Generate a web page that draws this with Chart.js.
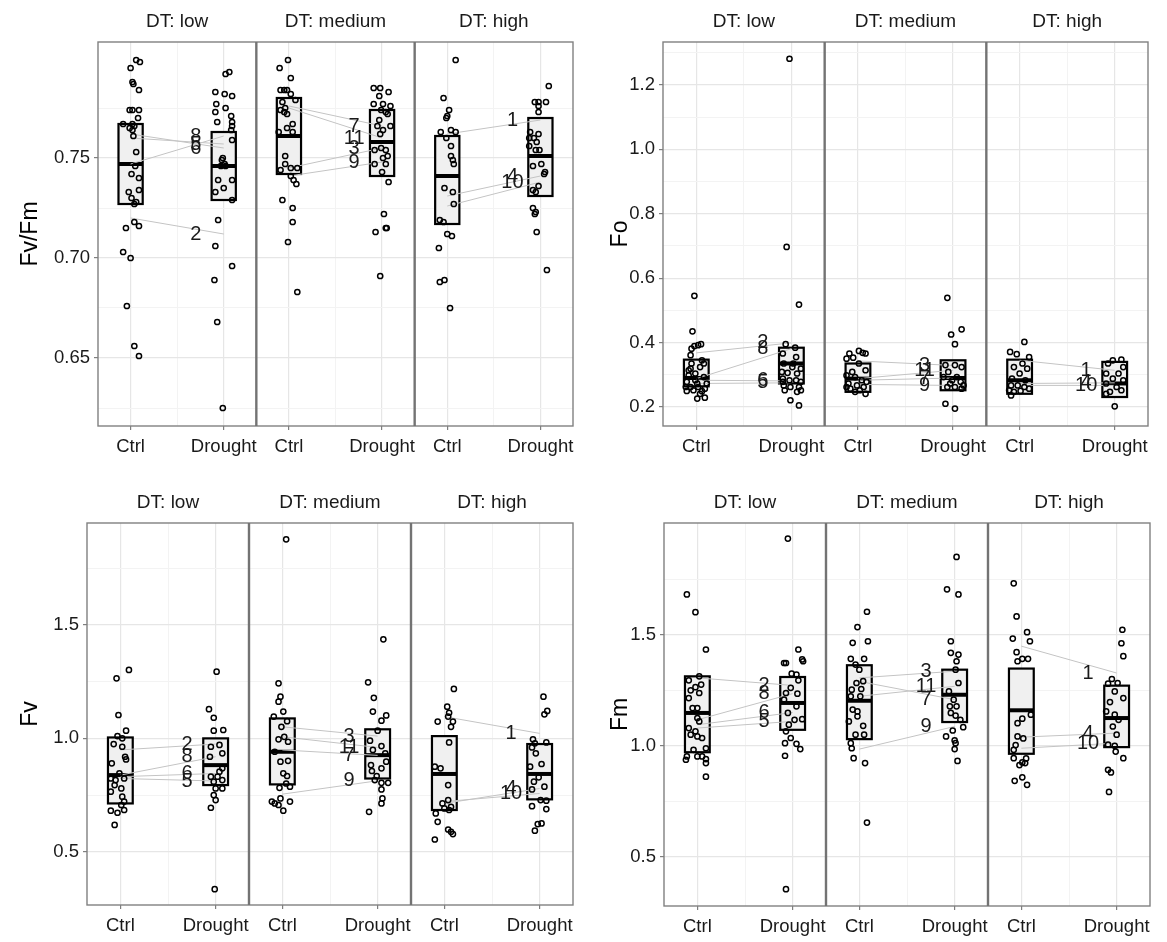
<!DOCTYPE html>
<html>
<head>
<meta charset="utf-8">
<script src="https://cdn.jsdelivr.net/npm/chart.js@4.4.1/dist/chart.umd.min.js"></script>
<style>
  body { margin: 0; background: #fff; width: 1167px; height: 942px; position: relative; overflow: hidden; }
  canvas { position: absolute; }
</style>
</head>
<body>
<canvas id="cFvFm"></canvas>
<canvas id="cFo"></canvas>
<canvas id="cFv"></canvas>
<canvas id="cFm"></canvas>
<script>
// facets and groups
const facets = ['DT: low', 'DT: medium', 'DT: high'];
const groups = ['Ctrl', 'Drought'];

// ---- Fv/Fm : points as [jitter, value] ----
const fvfmLowCtrl = [[0.06,0.799],[0.10,0.798],[0,0.795],[0.02,0.788],[0.03,0.787],[0.09,0.784],[-0.01,0.774],[0.02,0.774],[0.09,0.774],[0.08,0.770],[-0.08,0.767],[0.02,0.767],[0.04,0.766],[-0.01,0.765],[0.02,0.764],[0.03,0.761],[0.06,0.753],[0.05,0.746],[0.01,0.742],[0.09,0.740],[0.09,0.734],[-0.02,0.733],[0.01,0.730],[0.06,0.728],[0.04,0.727],[0.04,0.718],[-0.05,0.715],[0.09,0.716],[-0.08,0.703],[0,0.700],[-0.04,0.676],[0.04,0.656],[0.09,0.651]];
const fvfmLowDrought = [[0.02,0.792],[0.06,0.793],[-0.09,0.783],[0.01,0.782],[0.09,0.781],[-0.08,0.777],[0.02,0.775],[-0.09,0.773],[0.08,0.771],[0.09,0.768],[-0.07,0.768],[0.09,0.766],[0.08,0.764],[0.09,0.759],[-0.01,0.750],[-0.02,0.749],[0.01,0.747],[-0.03,0.746],[0.02,0.746],[-0.06,0.739],[0.09,0.739],[0,0.735],[-0.09,0.733],[0.09,0.729],[-0.06,0.719],[-0.09,0.706],[0.09,0.696],[-0.10,0.689],[-0.07,0.668],[-0.01,0.625]];
const fvfmMedCtrl = [[-0.01,0.799],[-0.10,0.795],[0.02,0.790],[-0.09,0.784],[-0.05,0.784],[-0.02,0.784],[0.02,0.782],[0.07,0.779],[-0.07,0.778],[-0.04,0.775],[-0.09,0.774],[-0.05,0.773],[-0.02,0.772],[0.04,0.767],[-0.02,0.765],[-0.11,0.763],[0.04,0.763],[-0.04,0.751],[-0.04,0.747],[0.02,0.745],[0.09,0.745],[-0.09,0.744],[0.02,0.741],[0.05,0.739],[0.08,0.737],[-0.07,0.729],[0.04,0.725],[0.04,0.718],[-0.01,0.708],[0.09,0.683]];
const fvfmMedDrought = [[-0.09,0.785],[-0.02,0.785],[0.07,0.783],[-0.03,0.781],[-0.09,0.777],[0.01,0.777],[0.09,0.776],[-0.01,0.774],[0.04,0.773],[0.06,0.772],[-0.03,0.769],[0.09,0.766],[-0.05,0.766],[0.01,0.764],[-0.02,0.762],[-0.01,0.755],[0.04,0.754],[-0.08,0.754],[0.06,0.751],[0.01,0.750],[-0.08,0.747],[0.04,0.747],[0,0.743],[0.07,0.738],[0.02,0.722],[-0.07,0.713],[0.04,0.715],[0.05,0.715],[-0.02,0.691]];
const fvfmHighCtrl = [[0.09,0.799],[-0.04,0.780],[0.02,0.774],[0,0.771],[-0.01,0.770],[-0.07,0.763],[0.04,0.764],[0.09,0.763],[-0.01,0.760],[0.04,0.756],[0.04,0.751],[0.06,0.749],[0.07,0.747],[-0.03,0.735],[0.06,0.733],[0.07,0.727],[-0.08,0.719],[-0.04,0.718],[0,0.712],[0.05,0.711],[-0.09,0.705],[-0.08,0.688],[-0.03,0.689],[0.03,0.675]];
const fvfmHighDrought = [[0.09,0.786],[-0.06,0.778],[-0.02,0.778],[0.06,0.778],[-0.02,0.776],[-0.02,0.773],[-0.11,0.763],[-0.02,0.762],[-0.12,0.760],[-0.07,0.760],[-0.04,0.758],[-0.12,0.756],[-0.05,0.754],[-0.01,0.754],[-0.08,0.746],[0.01,0.747],[0.05,0.743],[0.04,0.742],[-0.02,0.736],[-0.08,0.734],[-0.05,0.733],[-0.08,0.725],[-0.05,0.723],[-0.06,0.722],[-0.04,0.713],[0.07,0.694]];
// boxes [q1, median, q3] : low Ctrl, low Drought, medium Ctrl, ...
const fvfmBoxes = [[0.727,0.747,0.767],[0.729,0.746,0.763],[0.742,0.761,0.780],[0.741,0.758,0.774],[0.717,0.741,0.761],[0.731,0.751,0.770]];
// paired plants [facet, label, Ctrl value, Drought value]
const fvfmPairs = [[0,'5',0.760,0.757],[0,'6',0.762,0.755],[0,'8',0.747,0.761],[0,'2',0.720,0.712],[1,'7',0.776,0.766],[1,'11',0.775,0.760],[1,'3',0.745,0.755],[1,'9',0.741,0.748],[2,'1',0.762,0.769],[2,'4',0.731,0.741],[2,'10',0.726,0.738]];
const fvfmTicks = [0.65, 0.70, 0.75];
const fvfmMinor = [0.625, 0.675, 0.725, 0.775];

// ---- Fo ----
const foLowCtrl = [[-0.02,0.545],[-0.04,0.435],[-0.05,0.381],[-0.02,0.389],[0.05,0.395],[0.02,0.392],[-0.06,0.361],[0.08,0.335],[0.04,0.324],[-0.08,0.314],[-0.01,0.304],[0.08,0.293],[-0.10,0.278],[0.01,0.273],[-0.06,0.262],[0.02,0.262],[0.09,0.257],[-0.10,0.250],[-0.03,0.252],[0.06,0.249],[0.01,0.226],[0.09,0.229],[-0.05,0.335],[-0.08,0.298],[0.11,0.273],[-0.01,0.283],[0.04,0.241],[-0.11,0.262],[0.06,0.345],[-0.06,0.319]];
const foLowDrought = [[-0.02,1.281],[-0.05,0.697],[0.08,0.518],[-0.06,0.395],[0.04,0.384],[-0.09,0.366],[0.05,0.355],[-0.08,0.335],[0.01,0.324],[0.10,0.319],[-0.10,0.309],[-0.04,0.306],[0.06,0.304],[-0.09,0.288],[-0.02,0.283],[0.05,0.283],[0.10,0.278],[-0.08,0.267],[-0.01,0.262],[0.08,0.262],[0.10,0.252],[-0.07,0.252],[-0.01,0.221],[0.08,0.205],[-0.09,0.278],[0.02,0.335],[0.06,0.247]];
const foMedCtrl = [[-0.09,0.366],[-0.05,0.353],[0.01,0.374],[0.05,0.368],[0.08,0.366],[-0.12,0.350],[0.01,0.335],[-0.06,0.309],[0.08,0.314],[-0.12,0.298],[-0.03,0.293],[0.04,0.283],[-0.10,0.273],[-0.01,0.267],[0.06,0.262],[-0.08,0.257],[0.02,0.252],[0.08,0.241],[-0.03,0.247],[-0.12,0.262],[0.09,0.278]];
const foMedDrought = [[-0.06,0.539],[-0.02,0.425],[0.09,0.441],[0.02,0.395],[-0.08,0.330],[0.02,0.330],[0.09,0.324],[-0.05,0.309],[0.04,0.293],[-0.10,0.293],[-0.01,0.283],[0.08,0.278],[-0.06,0.262],[0.02,0.262],[0.09,0.257],[-0.08,0.210],[0.02,0.195],[0.11,0.267],[-0.03,0.273]];
const foHighCtrl = [[0.05,0.402],[-0.10,0.371],[-0.03,0.364],[0.10,0.355],[0.03,0.335],[0.08,0.319],[-0.06,0.324],[0,0.304],[-0.08,0.288],[0.06,0.283],[-0.09,0.267],[-0.02,0.267],[0.05,0.262],[-0.11,0.252],[-0.06,0.247],[0.01,0.250],[0.10,0.257],[-0.09,0.236]];
const foHighDrought = [[-0.02,0.345],[0.07,0.347],[-0.07,0.335],[0.09,0.324],[-0.09,0.304],[0.04,0.304],[-0.02,0.288],[0.09,0.283],[-0.09,0.273],[0.02,0.262],[-0.05,0.247],[0.07,0.252],[-0.09,0.241],[0,0.202]];
const foBoxes = [[0.264,0.290,0.347],[0.273,0.335,0.384],[0.247,0.288,0.335],[0.252,0.290,0.345],[0.241,0.283,0.347],[0.231,0.273,0.340]];
const foPairs = [[0,'2',0.368,0.399],[0,'8',0.288,0.381],[0,'6',0.283,0.281],[0,'5',0.273,0.275],[1,'3',0.343,0.329],[1,'11',0.288,0.314],[1,'7',0.283,0.290],[1,'9',0.270,0.267],[2,'1',0.345,0.314],[2,'4',0.273,0.275],[2,'10',0.267,0.267]];
const foTicks = [0.2, 0.4, 0.6, 0.8, 1.0, 1.2];
const foMinor = [0.3, 0.5, 0.7, 0.9, 1.1, 1.3];

// ---- Fv ----
const fvLowCtrl = [[0.09,1.302],[-0.04,1.265],[-0.02,1.103],[0.06,1.034],[-0.03,1.010],[0.02,1.000],[-0.07,0.975],[0.02,0.963],[0.05,0.919],[0.06,0.907],[-0.09,0.890],[-0.01,0.846],[-0.10,0.823],[-0.05,0.816],[0.04,0.823],[-0.06,0.794],[0.01,0.779],[-0.10,0.765],[0.02,0.743],[0.04,0.721],[0.01,0.706],[-0.10,0.681],[-0.03,0.672],[0.04,0.684],[-0.06,0.618]];
const fvLowDrought = [[0.01,1.294],[-0.07,1.129],[-0.02,1.091],[-0.02,1.034],[0.08,1.037],[-0.05,0.963],[0.04,0.971],[0.07,0.934],[-0.06,0.919],[0.07,0.868],[0.04,0.853],[0.02,0.831],[-0.05,0.831],[0.07,0.816],[-0.02,0.809],[0,0.779],[0.07,0.779],[-0.02,0.750],[0,0.728],[-0.05,0.694],[-0.01,0.335]];
const fvMedCtrl = [[0.04,1.878],[-0.04,1.243],[-0.02,1.184],[-0.04,1.162],[0.01,1.118],[-0.09,1.096],[0.05,1.076],[-0.01,1.051],[-0.04,0.996],[0.02,1.007],[0.06,0.985],[-0.08,0.941],[0.06,0.901],[-0.02,0.897],[0.01,0.846],[0.05,0.834],[-0.03,0.782],[0.04,0.801],[0.08,0.787],[-0.11,0.721],[-0.08,0.713],[-0.04,0.706],[0.01,0.681],[0.08,0.721],[-0.02,0.735]];
const fvMedDrought = [[0.06,1.437],[-0.10,1.247],[-0.04,1.179],[-0.05,1.118],[0.09,1.101],[0.04,1.078],[0,1.034],[-0.08,0.990],[0.04,0.966],[-0.05,0.949],[0.08,0.934],[0.09,0.897],[-0.07,0.882],[0.04,0.868],[-0.06,0.856],[-0.01,0.834],[-0.03,0.816],[0.04,0.804],[0.11,0.804],[0.04,0.775],[0.05,0.735],[0.04,0.713],[-0.09,0.676]];
const fvHighCtrl = [[0.10,1.218],[0.03,1.140],[0.05,1.113],[-0.07,1.074],[0.04,1.096],[0.09,1.074],[0.07,1.051],[0.05,0.982],[-0.10,0.875],[-0.04,0.868],[0.04,0.794],[0.04,0.728],[-0.02,0.713],[0.07,0.698],[0,0.691],[0.05,0.684],[-0.09,0.669],[-0.07,0.632],[0.04,0.598],[0.07,0.588],[0.09,0.578],[-0.10,0.554]];
const fvHighDrought = [[0.04,1.184],[0.08,1.121],[0.05,1.106],[-0.07,0.996],[-0.05,0.978],[-0.08,0.960],[-0.04,0.934],[0.07,0.982],[0.02,0.887],[-0.10,0.875],[-0.01,0.828],[-0.06,0.809],[0.05,0.787],[-0.08,0.775],[0.01,0.728],[0.07,0.725],[-0.08,0.701],[0.07,0.688],[0.02,0.625],[-0.02,0.622],[-0.05,0.593]];
const fvBoxes = [[0.713,0.838,1.004],[0.794,0.882,1.000],[0.797,0.941,1.088],[0.823,0.926,1.040],[0.684,0.843,1.010],[0.731,0.843,0.975]];
const fvPairs = [[0,'2',0.949,0.975],[0,'8',0.838,0.919],[0,'6',0.831,0.845],[0,'5',0.823,0.812],[1,'3',1.051,1.010],[1,'11',1.007,0.960],[1,'7',0.949,0.925],[1,'9',0.754,0.813],[2,'1',1.096,1.022],[2,'4',0.713,0.779],[2,'10',0.721,0.757]];
const fvTicks = [0.5, 1.0, 1.5];
const fvMinor = [0.75, 1.25, 1.75];

// ---- Fm ----
const fmLowCtrl = [[-0.11,1.682],[-0.02,1.602],[0.09,1.434],[0.02,1.313],[-0.09,1.295],[-0.02,1.264],[0.04,1.276],[-0.07,1.250],[-0.09,1.215],[0.02,1.238],[0,1.170],[-0.05,1.170],[0,1.125],[0.02,1.110],[-0.09,1.080],[-0.02,1.065],[-0.07,1.050],[0,1.042],[0.05,1.035],[0.09,0.989],[-0.04,0.982],[-0.11,0.952],[-0.12,0.937],[0,0.952],[0.05,0.952],[0.09,0.940],[0.09,0.922],[0.09,0.861]];
const fmLowDrought = [[-0.05,1.934],[0.06,1.434],[-0.09,1.373],[-0.07,1.373],[0.10,1.389],[0.11,1.381],[-0.01,1.325],[0.04,1.321],[0.06,1.295],[-0.02,1.261],[-0.07,1.238],[0.05,1.235],[-0.09,1.208],[0.04,1.178],[-0.05,1.148],[0.02,1.117],[0.10,1.120],[-0.04,1.095],[-0.07,1.065],[-0.02,1.035],[0.04,1.009],[-0.08,1.012],[0.08,0.985],[-0.08,0.955],[-0.07,0.354]];
const fmMedCtrl = [[0.08,1.604],[-0.02,1.535],[-0.07,1.464],[0.09,1.471],[-0.09,1.392],[0.05,1.392],[-0.04,1.366],[0,1.343],[-0.03,1.283],[0.04,1.291],[-0.08,1.253],[0.02,1.256],[-0.09,1.223],[0.01,1.223],[-0.07,1.163],[-0.02,1.155],[-0.11,1.110],[-0.02,1.133],[0.04,1.090],[-0.04,1.050],[0.05,1.050],[-0.09,1.012],[-0.08,0.989],[-0.06,0.944],[0.06,0.922],[0.08,0.654]];
const fmMedDrought = [[0.02,1.851],[-0.08,1.705],[0.04,1.682],[-0.04,1.471],[-0.04,1.419],[0.04,1.411],[0.02,1.381],[0.01,1.343],[0.04,1.283],[-0.06,1.245],[-0.01,1.208],[-0.05,1.178],[0.02,1.178],[-0.04,1.148],[0.01,1.136],[0.06,1.117],[0.09,1.084],[-0.02,1.069],[-0.09,1.042],[0,1.024],[0.01,1.012],[0,0.985],[0.03,0.932]];
const fmHighCtrl = [[-0.08,1.732],[-0.05,1.583],[-0.09,1.483],[0.06,1.512],[0.09,1.471],[-0.05,1.422],[-0.04,1.381],[0.01,1.392],[0.07,1.392],[0.10,1.140],[0.01,1.122],[-0.04,1.102],[-0.04,1.042],[0.02,1.033],[-0.06,1.003],[-0.08,0.982],[-0.08,0.944],[0.05,0.943],[0.01,0.925],[-0.02,0.913],[0.04,0.922],[-0.07,0.842],[0.01,0.858],[0.06,0.824]];
const fmHighDrought = [[0.06,1.523],[0.05,1.462],[0.07,1.404],[-0.05,1.301],[0.01,1.283],[-0.09,1.280],[-0.02,1.245],[0.07,1.215],[-0.07,1.197],[-0.11,1.155],[-0.02,1.140],[0.02,1.117],[-0.04,1.087],[0,1.050],[-0.09,1.005],[-0.02,1.000],[-0.01,0.974],[0.07,0.944],[-0.09,0.892],[-0.06,0.880],[-0.08,0.792]];
const fmBoxes = [[0.971,1.148,1.313],[1.072,1.193,1.310],[1.030,1.203,1.363],[1.107,1.230,1.343],[0.964,1.160,1.348],[0.994,1.125,1.271]];
const fmPairs = [[0,'2',1.306,1.272],[0,'8',1.117,1.235],[0,'6',1.095,1.150],[0,'5',1.080,1.110],[1,'3',1.306,1.336],[1,'11',1.223,1.268],[1,'7',1.290,1.208],[1,'9',0.985,1.087],[2,'1',1.449,1.328],[2,'4',1.039,1.057],[2,'10',0.989,1.012]];
const fmTicks = [0.5, 1.0, 1.5];
const fmMinor = [0.75, 1.25, 1.75];

Chart.defaults.font.family = "'Liberation Sans', Arial, sans-serif";
Chart.defaults.color = '#1a1a1a';

// x layout of one facet (in axis units)
const FACET_W = 1.7;
const GROUP_X = [0.35, 1.35];
const BOX_HALF = 0.13;
const LABEL_X = 1.05;
const FONT = "'Liberation Sans', Arial, sans-serif";

function facetPlugin(spec) {
  return {
    id: 'facets',
    beforeDatasetsDraw(chart) {
      const { ctx, scales: { x, y } } = chart;
      ctx.save();
      spec.boxes.forEach(([q1, med, q3], i) => {
        const f = Math.floor(i / 2), g = i % 2;
        const cx = f * FACET_W + GROUP_X[g];
        const x0 = x.getPixelForValue(cx - BOX_HALF), x1 = x.getPixelForValue(cx + BOX_HALF);
        const yt = y.getPixelForValue(q3), yb = y.getPixelForValue(q1), ym = y.getPixelForValue(med);
        ctx.fillStyle = '#f0f0f0';
        ctx.fillRect(x0, yt, x1 - x0, yb - yt);
        ctx.strokeStyle = '#000';
        ctx.lineWidth = 2.2;
        ctx.strokeRect(x0, yt, x1 - x0, yb - yt);
        ctx.lineWidth = 4;
        ctx.beginPath(); ctx.moveTo(x0, ym); ctx.lineTo(x1, ym); ctx.stroke();
      });
      ctx.restore();
    },
    afterDatasetsDraw(chart) {
      const { ctx, scales: { x, y } } = chart;
      ctx.save();
      ctx.font = '20px ' + FONT;
      ctx.fillStyle = '#1a1a1a';
      ctx.textAlign = 'center';
      ctx.textBaseline = 'middle';
      spec.pairs.forEach(([f, lab, c, d]) => {
        ctx.fillText(lab, x.getPixelForValue(f * FACET_W + LABEL_X), y.getPixelForValue(d));
      });
      ctx.restore();
    },
    afterDraw(chart) {
      const { ctx, chartArea: a, scales: { x } } = chart;
      ctx.save();
      // panel border
      ctx.strokeStyle = '#808080';
      ctx.lineWidth = 1.4;
      ctx.strokeRect(a.left, a.top, a.right - a.left, a.bottom - a.top);
      // facet separators
      ctx.strokeStyle = '#737373';
      ctx.lineWidth = 2.4;
      for (let f = 1; f < facets.length; f++) {
        const px = x.getPixelForValue(f * FACET_W);
        ctx.beginPath(); ctx.moveTo(px, a.top); ctx.lineTo(px, a.bottom); ctx.stroke();
      }
      // strip labels
      ctx.font = '19px ' + FONT;
      ctx.fillStyle = '#1a1a1a';
      ctx.textAlign = 'center';
      ctx.textBaseline = 'middle';
      facets.forEach((name, f) => {
        ctx.fillText(name, x.getPixelForValue(f * FACET_W + FACET_W / 2), a.top - 20);
      });
      ctx.restore();
    }
  };
}

function drawPanel(id, box, spec) {
  const canvas = document.getElementById(id);
  canvas.width = box.w; canvas.height = box.h;
  canvas.style.left = box.x + 'px';
  canvas.style.top = box.y + 'px';

  const datasets = [];
  spec.points.forEach((byGroup, f) => {
    byGroup.forEach((pts, g) => {
      datasets.push({
        type: 'scatter',
        data: pts.map(([dx, v]) => ({ x: f * FACET_W + GROUP_X[g] + dx, y: v })),
        pointRadius: 2.6,
        pointBorderWidth: 1.5,
        borderColor: '#000',
        backgroundColor: 'rgba(0,0,0,0)',
        order: 0
      });
    });
  });
  spec.pairs.forEach(([f, lab, c, d]) => {
    datasets.push({
      type: 'line',
      data: [{ x: f * FACET_W + GROUP_X[0], y: c }, { x: f * FACET_W + GROUP_X[1], y: d }],
      borderColor: '#c4c4c4',
      borderWidth: 1,
      pointRadius: 0,
      order: 1
    });
  });

  const xTicks = [];
  facets.forEach((_, f) => {
    xTicks.push(f * FACET_W + GROUP_X[0], f * FACET_W + (GROUP_X[0] + GROUP_X[1]) / 2, f * FACET_W + GROUP_X[1]);
  });
  const yAll = spec.ticks.concat(spec.minor).sort((a, b) => a - b);
  const isMajor = v => spec.ticks.some(t => Math.abs(t - v) < 1e-9);

  new Chart(canvas, {
    type: 'scatter',
    data: { datasets },
    options: {
      responsive: false,
      animation: false,
      layout: { padding: { left: 0, top: box.top, right: box.w - box.right, bottom: 0 } },
      plugins: { legend: { display: false }, tooltip: { enabled: false } },
      scales: {
        x: {
          type: 'linear',
          min: 0,
          max: FACET_W * facets.length,
          afterBuildTicks: s => { s.ticks = xTicks.map(v => ({ value: v })); },
          afterFit: s => { s.height = box.h - box.bottom; },
          ticks: {
            autoSkip: false, maxRotation: 0, padding: 6,
            font: { size: 18.5 }, color: '#1a1a1a',
            callback: (v, i) => (i % 3 === 0 ? groups[0] : i % 3 === 2 ? groups[1] : '')
          },
          grid: {
            color: c => (c.index % 3 === 1 ? '#f3f3f3' : '#e6e6e6'),
            lineWidth: c => (c.index % 3 === 1 ? 1 : 1.2),
            tickColor: c => (c.index % 3 === 1 ? 'rgba(0,0,0,0)' : '#7f7f7f'),
            tickLength: 4
          },
          border: { display: false }
        },
        y: {
          type: 'linear',
          min: spec.range[0],
          max: spec.range[1],
          afterBuildTicks: s => { s.ticks = yAll.map(v => ({ value: v })); },
          afterFit: s => { s.width = box.left; },
          ticks: {
            autoSkip: false, padding: 4,
            font: { size: 18.5 }, color: '#1a1a1a',
            callback: v => (isMajor(v) ? v.toFixed(spec.dec) : '')
          },
          grid: {
            color: c => (c.tick && isMajor(c.tick.value) ? '#e6e6e6' : '#f3f3f3'),
            lineWidth: c => (c.tick && isMajor(c.tick.value) ? 1.2 : 1),
            tickColor: c => (c.tick && isMajor(c.tick.value) ? '#7f7f7f' : 'rgba(0,0,0,0)'),
            tickLength: 4
          },
          border: { display: false },
          title: {
            display: true, text: spec.title, color: '#000',
            font: { size: 23 }, padding: { top: box.titlePad, bottom: 0 }
          }
        }
      }
    },
    plugins: [facetPlugin(spec)]
  });
}

drawPanel('cFvFm', { x: 0, y: 0, w: 583, h: 471, left: 98, top: 42, right: 573, bottom: 426, titlePad: 17 }, {
  title: 'Fv/Fm', range: [0.616, 0.808], dec: 2, ticks: fvfmTicks, minor: fvfmMinor,
  points: [[fvfmLowCtrl, fvfmLowDrought], [fvfmMedCtrl, fvfmMedDrought], [fvfmHighCtrl, fvfmHighDrought]],
  boxes: fvfmBoxes, pairs: fvfmPairs
});
drawPanel('cFo', { x: 583, y: 0, w: 584, h: 471, left: 80, top: 42, right: 565, bottom: 426, titlePad: 24 }, {
  title: 'Fo', range: [0.141, 1.333], dec: 1, ticks: foTicks, minor: foMinor,
  points: [[foLowCtrl, foLowDrought], [foMedCtrl, foMedDrought], [foHighCtrl, foHighDrought]],
  boxes: foBoxes, pairs: foPairs
});
drawPanel('cFv', { x: 0, y: 471, w: 583, h: 471, left: 87, top: 52, right: 573, bottom: 434, titlePad: 17 }, {
  title: 'Fv', range: [0.265, 1.95], dec: 1, ticks: fvTicks, minor: fvMinor,
  points: [[fvLowCtrl, fvLowDrought], [fvMedCtrl, fvMedDrought], [fvHighCtrl, fvHighDrought]],
  boxes: fvBoxes, pairs: fvPairs
});
drawPanel('cFm', { x: 583, y: 471, w: 584, h: 471, left: 81, top: 52, right: 567, bottom: 435, titlePad: 24 }, {
  title: 'Fm', range: [0.278, 2.004], dec: 1, ticks: fmTicks, minor: fmMinor,
  points: [[fmLowCtrl, fmLowDrought], [fmMedCtrl, fmMedDrought], [fmHighCtrl, fmHighDrought]],
  boxes: fmBoxes, pairs: fmPairs
});
</script>
</body>
</html>
